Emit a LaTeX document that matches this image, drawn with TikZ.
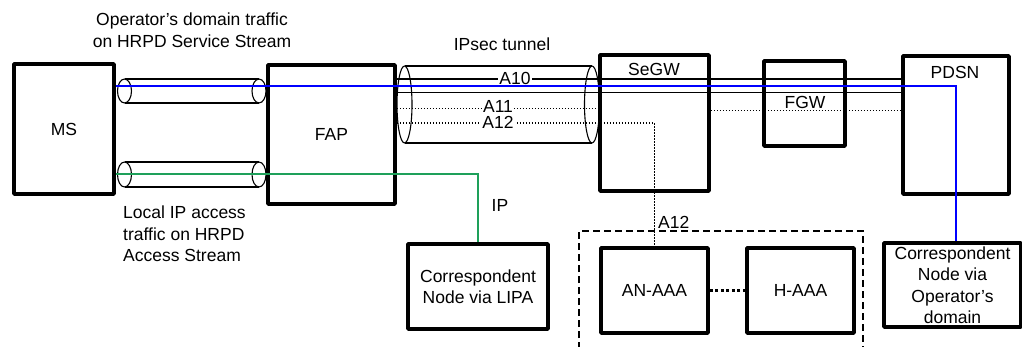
\documentclass[tikz,border=0pt]{standalone}
\usepackage{fontspec}
\setmainfont{Liberation Sans}
\definecolor{lipagreen}{RGB}{30,160,90}
\begin{document}
\begin{tikzpicture}[x=1pt,y=-1pt,
  every node/.style={font=\fontsize{17.5}{21.5}\selectfont, inner sep=0pt},
  box/.style={draw, line width=3.7pt, line join=round, rectangle, align=center},
  tube/.style={line width=1.1pt},
  txt/.style={align=center},
  blueln/.style={draw=blue, line width=1.4pt},
  greenln/.style={draw=lipagreen, line width=1.4pt},
  dotln/.style={line width=1.1pt, dash pattern=on 1.5pt off 1.5pt},
  solidln/.style={line width=1.1pt},
  lbl/.style={fill=white, inner xsep=1pt}
]
\clip (0,0) rectangle (1022,347);
\fill[white] (0,0) rectangle (1022,347);

% tubes
\foreach \cy/\ry in {91/12, 174.5/12.5}{
  \draw[tube] (124.5,\cy-\ry) -- (259,\cy-\ry);
  \draw[tube] (124.5,\cy+\ry) -- (259,\cy+\ry);
  \draw[tube] (124.5,\cy) ellipse [x radius=7, y radius=\ry];
  \draw[tube] (259,\cy) ellipse [x radius=7, y radius=\ry];
}
\draw[tube] (404.5,66) -- (592,66);
\draw[tube] (404.5,143) -- (592,143);
\draw[tube] (404.5,104.5) ellipse [x radius=7.5, y radius=38.5];
\draw[tube] (592,104.5) ellipse [x radius=7.5, y radius=38.5];

% boxes
\node[box, minimum width=100pt, minimum height=130pt] (ms) at (64,129) {MS};
\node[box, minimum width=127pt, minimum height=139pt] (fap) at (331.5,134.5) {FAP};
\node[box, minimum width=109pt, minimum height=136pt] (segw) at (654.5,123) {};
\node[box, minimum width=81pt, minimum height=85pt] (fgw) at (804.5,103.5) {};
\node[box, minimum width=106pt, minimum height=138pt] (pdsn) at (956,125) {};
\node[box, minimum width=137pt, minimum height=84pt] (cnop) at (952.5,285) {Correspondent\\Node via\\Operator's\\domain};
\node[box, minimum width=140pt, minimum height=85pt] (cnlipa) at (478,286.5) {Correspondent\\Node via LIPA};
\node[box, minimum width=107pt, minimum height=85pt] (anaaa) at (654.5,290.5) {AN-AAA};
\node[box, minimum width=107pt, minimum height=85pt] (haaa) at (800.5,290.5) {H-AAA};

\node (segwl) at (654,69) {SeGW};
\node (pdsnl) at (955,72) {PDSN};
\node (fgwl) at (805,102) {FGW};

% dashed region
\draw[line width=1.3pt, dash pattern=on 7pt off 4pt] (579,360) -- (579,231) -- (863,231) -- (863,360);

% coordinates
\coordinate (fapA) at (fap.east |- 0,79);
\coordinate (fapB) at (fap.east |- 0,92.5);
\coordinate (pdsnA) at (pdsn.west |- 0,79);
\coordinate (pdsnB) at (pdsn.west |- 0,92.5);
\coordinate (fapC) at (fap.east |- 0,108.5);
\coordinate (segwC) at (segw.west |- 0,108.5);
\coordinate (segwD) at (segw.east |- 0,110.7);
\coordinate (pdsnD) at (pdsn.west |- 0,110.7);
\coordinate (fapE) at (fap.east |- 0,123);
\coordinate (a12c) at (anaaa.north |- 0,123);
\coordinate (msblue) at (ms.east |- 0,86);
\coordinate (bluec) at (956,86);
\coordinate (bluee) at (956,0 |- cnop.north);
\coordinate (msgreen) at (ms.east |- 0,174);
\coordinate (greenc) at (cnlipa.north |- 0,174);

% A10 lines
\draw[solidln] (fapA) -- (pdsnA);
\draw[solidln] (fapB) -- (pdsnB);
% A11
\draw[dotln] (fapC) -- (segwC);
\draw[dotln] (segwD) -- (pdsnD);
% A12
\draw[dotln] (fapE) -- (a12c) -- (anaaa.north);
% AN-AAA to H-AAA
\draw[line width=2.2pt, dash pattern=on 3pt off 2.5pt] (anaaa.east) -- (haaa.west);

% labels on lines
\node[lbl] (a10) at (515,78) {A10};
\node[lbl] (a11) at (498,106.5) {A11};
\node[lbl] (a12) at (498,122.5) {A12};
\node[anchor=west] (a12v) at (658,222) {A12};

% blue and green
\draw[blueln] (msblue) -- (bluec) -- (bluee);
\draw[greenln] (msgreen) -- (greenc) -- (cnlipa.north);

% texts
\node[txt] (t1) at (192,30) {Operator's domain traffic\\on HRPD Service Stream};
\node[align=left, anchor=west] (t2) at (123,234) {Local IP access\\traffic on HRPD\\Access Stream};
\node (t3) at (502,44) {IPsec tunnel};
\node (t4) at (500,205) {IP};
\end{tikzpicture}
\end{document}
